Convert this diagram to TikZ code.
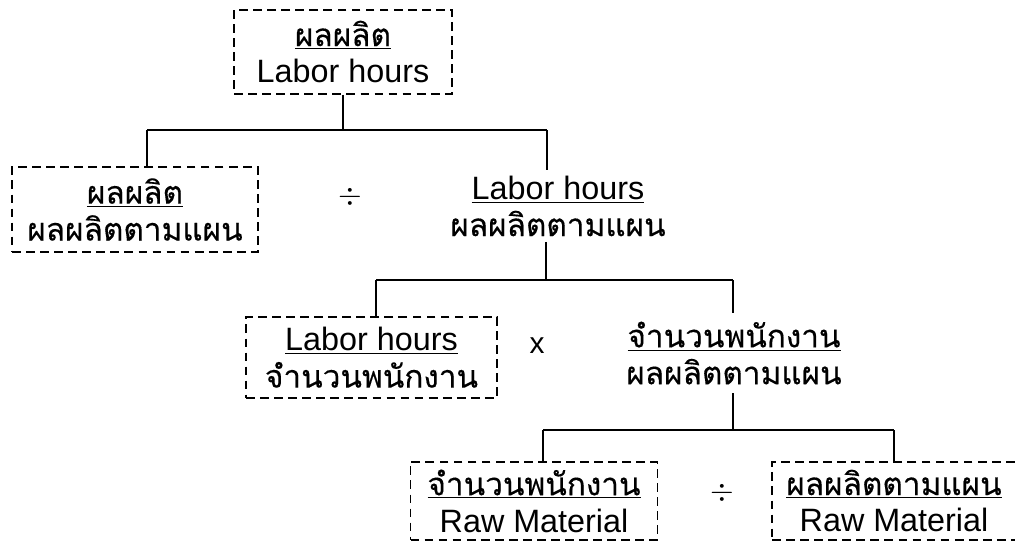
\documentclass[tikz,border=0pt]{standalone}
\usepackage{fontspec}
\setmainfont{Liberation Sans}
\newfontfamily\thai[Script=Thai,Scale=0.975,FakeBold=0.3]{Loma}
\begin{document}
\begin{tikzpicture}[x=0.02cm,y=-0.02cm,
  every node/.style={font=\fontsize{18.4}{21}\selectfont, align=center, inner sep=0pt},
  dbox/.style={draw, line width=0.9pt, dash pattern=on 5pt off 3pt},
  link/.style={line width=1pt},
  op/.style={font=\fontsize{17}{19}\selectfont}]
\useasboundingbox (0,0) rectangle (1015,545);
\clip (0,0) rectangle (1015,545);

% boxed terms and the intermediate ratios
\node[dbox, minimum width=4.36cm, minimum height=1.68cm] (top) at (343,52)
  {\underline{\thai ผลผลิต}\\Labor hours};
\node[dbox, minimum width=4.92cm, minimum height=1.70cm] (lb) at (135,209.5)
  {\underline{\thai ผลผลิต}\\{\thai ผลผลิตตามแผน}};
\node[minimum width=4.4cm, minimum height=1.42cm] (r1) at (558,206)
  {\underline{Labor hours}\\{\thai ผลผลิตตามแผน}};
\node[dbox, minimum width=5.02cm, minimum height=1.62cm] (mb) at (371.5,357.5)
  {\underline{Labor hours}\\{\thai จำนวนพนักงาน}};
\node[minimum width=4.2cm, minimum height=1.6cm] (r2) at (734,353)
  {\underline{\thai จำนวนพนักงาน}\\{\thai ผลผลิตตามแผน}};
\node[dbox, minimum width=4.94cm, minimum height=1.56cm] (bl) at (534,501)
  {\underline{\thai จำนวนพนักงาน}\\Raw Material};
\node[dbox, minimum width=4.88cm, minimum height=1.56cm] (br) at (894,501)
  {\underline{\thai ผลผลิตตามแผน}\\Raw Material};

% operators
\node[op] (d1) at (350,197) {$\div$};
\node[op] (m1) at (537,346) {x};
\node[op] (d2) at (722,493) {$\div$};

% junction points of the tree
\coordinate (j1) at (343,130);
\coordinate (j1l) at (147,130);
\coordinate (j1r) at (547,130);
\coordinate (j2) at (546,280);
\coordinate (j2l) at (376,280);
\coordinate (j2r) at (733,280);
\coordinate (j3) at (733,430);
\coordinate (j3l) at (543,430);
\coordinate (j3r) at (894,430);

% connectors
\draw[link] (top.south) -- (j1);
\draw[link] (j1l) -- (j1r);
\draw[link] (j1l) -- (j1l |- lb.north);
\draw[link] (j1r) -- (j1r |- r1.north);
\draw[link] (j2 |- r1.south) -- (j2);
\draw[link] (j2l) -- (j2r);
\draw[link] (j2l) -- (j2l |- mb.north);
\draw[link] (j2r) -- (j2r |- r2.north);
\draw[link] (j3 |- r2.south) -- (j3);
\draw[link] (j3l) -- (j3r);
\draw[link] (j3l) -- (j3l |- bl.north);
\draw[link] (j3r) -- (j3r |- br.north);
\end{tikzpicture}
\end{document}
